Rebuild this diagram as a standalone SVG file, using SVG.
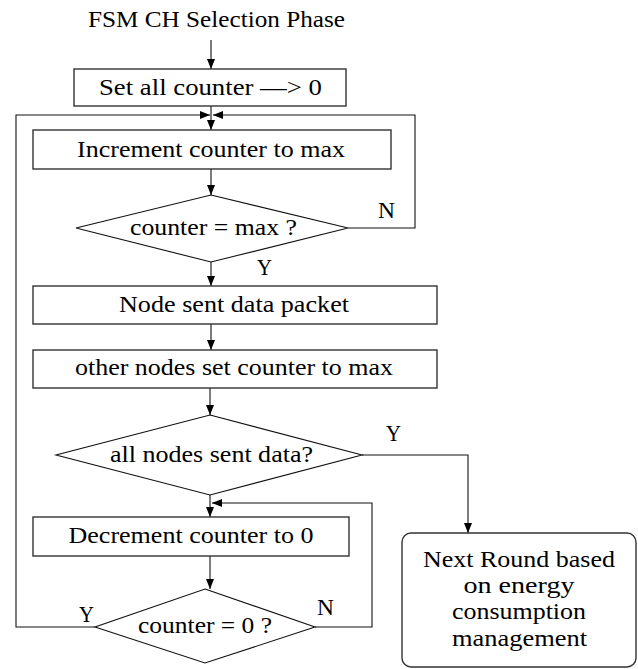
<svg xmlns="http://www.w3.org/2000/svg" width="638" height="669" viewBox="0 0 638 669">
  <style>
    .box { fill: #fff; stroke: #333; stroke-width: 1.4; }
    .dia { fill: #fff; stroke: #111; stroke-width: 1.1; }
    .ln { fill: none; stroke: #111; stroke-width: 1.1; }
    .t { font-family: "Liberation Serif", "Times New Roman", serif; font-size: 22.5px; fill: #000; text-anchor: middle; }
    .lbl { font-family: "Liberation Serif", "Times New Roman", serif; font-size: 22.5px; fill: #000; }
  </style>
  <defs>
    <marker id="arrow" markerUnits="userSpaceOnUse" markerWidth="10" markerHeight="8" refX="10" refY="4" orient="auto">
      <path d="M0,0 L10,4 L0,8 z" fill="#000"/>
    </marker>
  </defs>

  <rect width="638" height="669" fill="#fff"/>

  <!-- connectors -->
  <g id="connectors">
    <line class="ln" x1="211" y1="40" x2="211" y2="69" marker-end="url(#arrow)"/>
    <line class="ln" x1="211" y1="106" x2="211" y2="130" marker-end="url(#arrow)"/>
    <!-- loop back from counter = 0 ? (Y) -->
    <polyline class="ln" points="95,627 16,627 16,115 210,115" marker-end="url(#arrow)"/>
    <!-- loop back from counter = max ? (N) -->
    <polyline class="ln" points="348,228 415,228 415,115 213,115" marker-end="url(#arrow)"/>
    <line class="ln" x1="211" y1="169" x2="211" y2="195" marker-end="url(#arrow)"/>
    <line class="ln" x1="211" y1="262" x2="211" y2="286" marker-end="url(#arrow)"/>
    <line class="ln" x1="211" y1="324" x2="211" y2="350" marker-end="url(#arrow)"/>
    <line class="ln" x1="210" y1="388" x2="210" y2="415" marker-end="url(#arrow)"/>
    <!-- all nodes sent data? (Y) -->
    <polyline class="ln" points="362,455 468,455 468,533" marker-end="url(#arrow)"/>
    <line class="ln" x1="210" y1="495" x2="210" y2="517" marker-end="url(#arrow)"/>
    <!-- loop back from counter = 0 ? (N) -->
    <polyline class="ln" points="315,627 372,627 372,503 212,503" marker-end="url(#arrow)"/>
    <line class="ln" x1="210" y1="556" x2="210" y2="589" marker-end="url(#arrow)"/>
  </g>

  <g id="title">
    <text class="t" x="216.5" y="27" textLength="257" lengthAdjust="spacingAndGlyphs">FSM CH Selection Phase</text>
  </g>

  <g id="set-counter">
    <rect class="box" x="74" y="69" width="272" height="37"/>
    <text class="t" x="210.5" y="95" textLength="223" lengthAdjust="spacingAndGlyphs">Set all counter  —&gt; 0</text>
  </g>

  <g id="increment">
    <rect class="box" x="33" y="130" width="358" height="39"/>
    <text class="t" x="211" y="157" textLength="268" lengthAdjust="spacingAndGlyphs">Increment counter to max</text>
  </g>

  <g id="check-max">
    <polygon class="dia" points="211,195 348,228 211,262 76,228"/>
    <text class="t" x="213.5" y="235" textLength="167" lengthAdjust="spacingAndGlyphs">counter = max ?</text>
    <text class="lbl" x="378" y="218" textLength="17" lengthAdjust="spacingAndGlyphs">N</text>
    <text class="lbl" x="257" y="275" textLength="15" lengthAdjust="spacingAndGlyphs">Y</text>
  </g>

  <g id="send-packet">
    <rect class="box" x="33" y="286" width="404" height="38"/>
    <text class="t" x="234" y="312" textLength="230" lengthAdjust="spacingAndGlyphs">Node sent data packet</text>
  </g>

  <g id="set-max">
    <rect class="box" x="33" y="350" width="404" height="38"/>
    <text class="t" x="234" y="375" textLength="318" lengthAdjust="spacingAndGlyphs">other nodes set counter to max</text>
  </g>

  <g id="check-all-sent">
    <polygon class="dia" points="210,415 362,455 210,495 56,455"/>
    <text class="t" x="211.5" y="462" textLength="203" lengthAdjust="spacingAndGlyphs">all nodes sent data?</text>
    <text class="lbl" x="386" y="441" textLength="15" lengthAdjust="spacingAndGlyphs">Y</text>
  </g>

  <g id="next-round">
    <rect class="box" x="402" y="533" width="234" height="134" rx="9" ry="9"/>
    <text class="t" x="519" y="567" textLength="192" lengthAdjust="spacingAndGlyphs">Next Round based</text>
    <text class="t" x="519" y="593" textLength="111" lengthAdjust="spacingAndGlyphs">on energy</text>
    <text class="t" x="519" y="619" textLength="134" lengthAdjust="spacingAndGlyphs">consumption</text>
    <text class="t" x="519.5" y="646" textLength="135" lengthAdjust="spacingAndGlyphs">management</text>
  </g>

  <g id="decrement">
    <rect class="box" x="33" y="517" width="316" height="39"/>
    <text class="t" x="191" y="543" textLength="245" lengthAdjust="spacingAndGlyphs">Decrement counter to 0</text>
  </g>

  <g id="check-zero">
    <polygon class="dia" points="205,589 315,627 205,663 95,627"/>
    <text class="t" x="205" y="633" textLength="134" lengthAdjust="spacingAndGlyphs">counter = 0 ?</text>
    <text class="lbl" x="79" y="622" textLength="15" lengthAdjust="spacingAndGlyphs">Y</text>
    <text class="lbl" x="317" y="615" textLength="17" lengthAdjust="spacingAndGlyphs">N</text>
  </g>
</svg>
